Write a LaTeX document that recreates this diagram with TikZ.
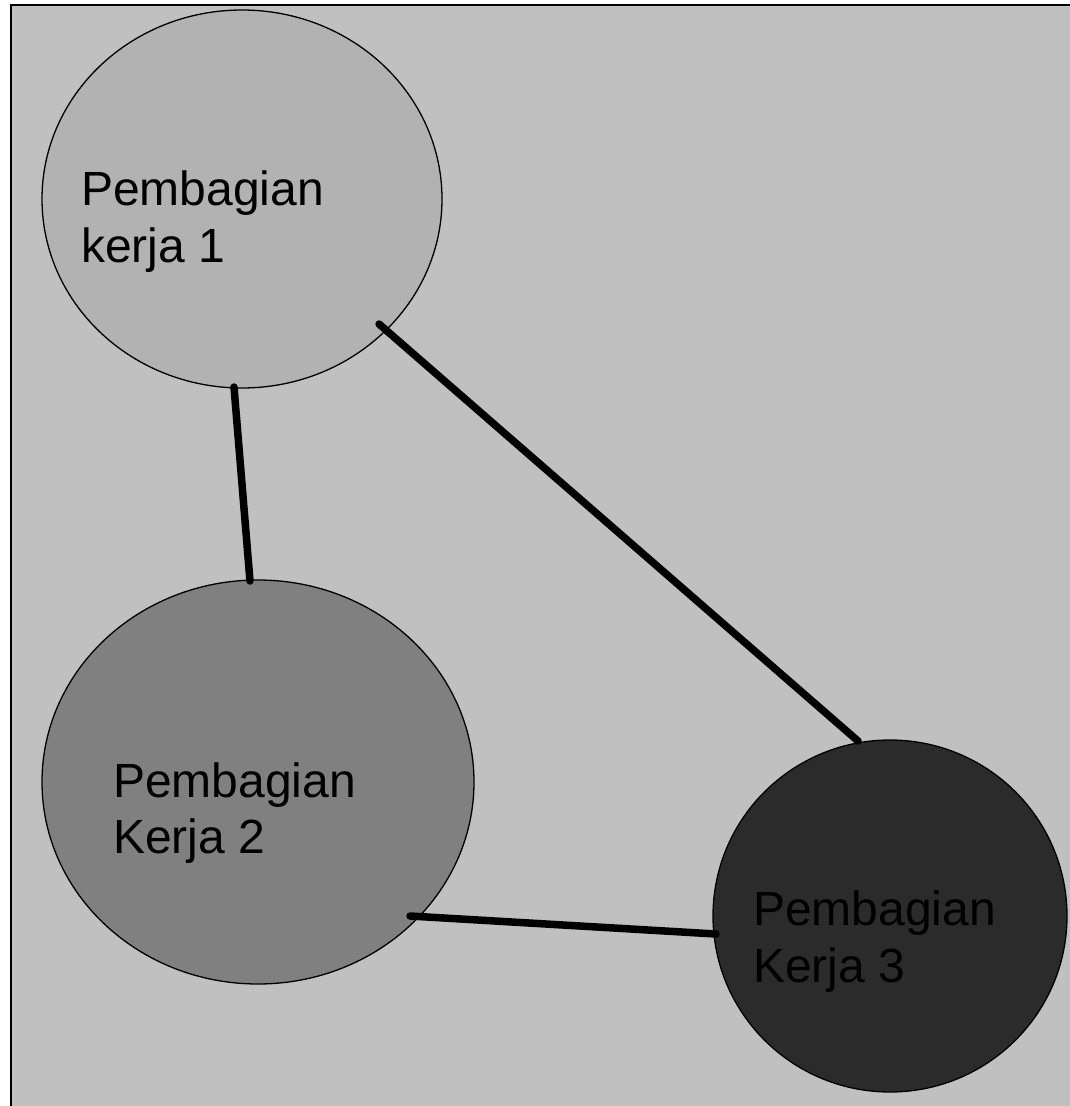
\documentclass[tikz,border=0pt]{standalone}
\usepackage{fontspec}
\setmainfont{Liberation Sans}
\usetikzlibrary{shapes.geometric}
\definecolor{canvas}{HTML}{C0C0C0}
\definecolor{fillA}{HTML}{B2B2B2}
\definecolor{fillB}{HTML}{808080}
\definecolor{fillC}{HTML}{2B2B2B}
\begin{document}
\begin{tikzpicture}[x=1pt,y=-1pt,
  blob/.style={ellipse, draw=black, line width=1.3pt, inner sep=0pt},
  caption/.style={anchor=base west, inner sep=0pt, font=\fontsize{48}{56}\selectfont},
  link/.style={line width=7.5pt, line cap=round}]
\useasboundingbox (0,0) rectangle (1070,1106);
\clip (0,0) rectangle (1070,1106);
% frame
\draw[fill=canvas, line width=2pt] (10.5,4.5) rectangle (1090,1130);
% groups
\node[blob, fill=fillA, minimum width=400pt, minimum height=378pt] (g1) at (242,199) {};
\node[blob, fill=fillB, minimum width=432pt, minimum height=404pt] (g2) at (258,782) {};
\node[blob, fill=fillC, minimum width=354pt, minimum height=352pt] (g3) at (890,916) {};
% connector end points
\coordinate (a1) at (234,387);
\coordinate (b1) at (250,581);
\coordinate (a2) at (379,324);
\coordinate (b2) at (858,741);
\coordinate (a3) at (410,916);
\coordinate (b3) at (716,934);
\draw[link] (a1) -- (b1);
\draw[link] (a2) -- (b2);
\draw[link] (a3) -- (b3);
% labels
\node[caption] (t1a) at (81,205) {Pembagian};
\node[caption] (t1b) at (81,262) {kerja 1};
\node[caption] (t2a) at (113,797) {Pembagian};
\node[caption] (t2b) at (113,853) {Kerja 2};
\node[caption] (t3a) at (753,925) {Pembagian};
\node[caption] (t3b) at (753,982) {Kerja 3};
\end{tikzpicture}
\end{document}
